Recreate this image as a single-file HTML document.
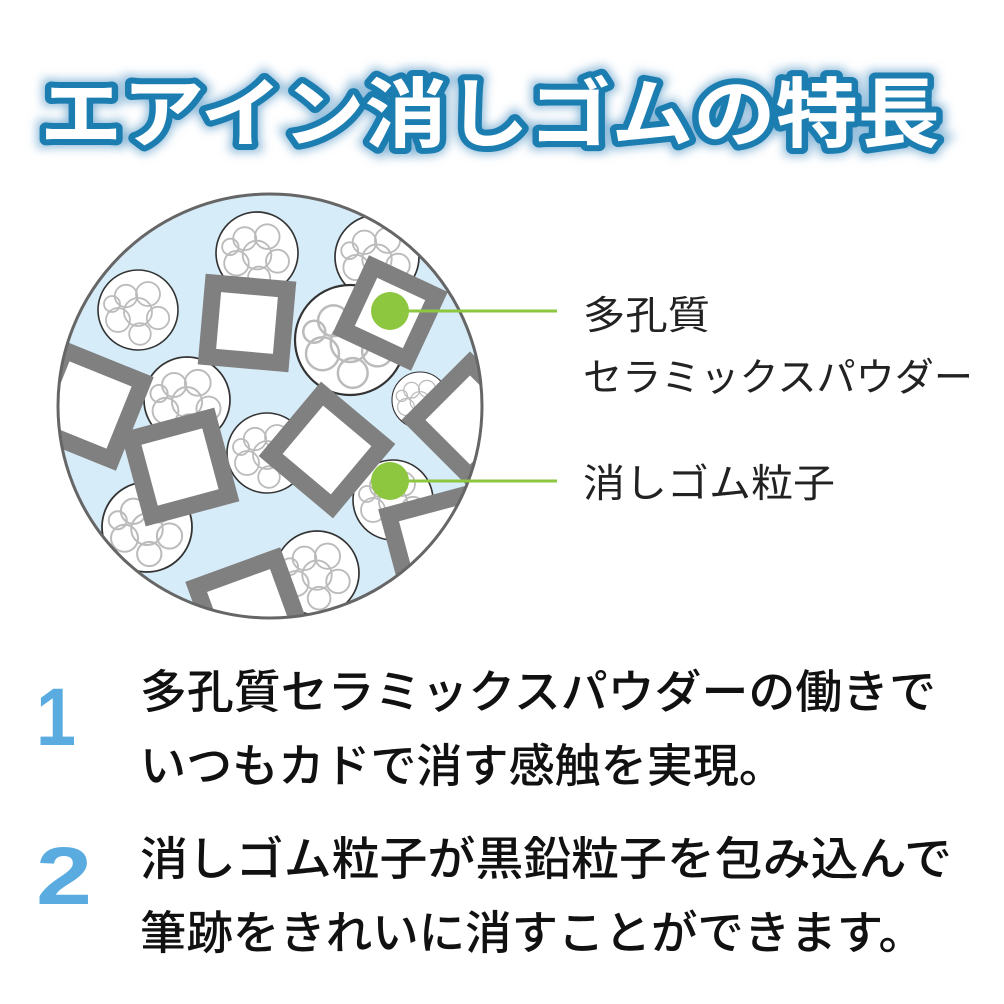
<!DOCTYPE html>
<html><head><meta charset="utf-8"><style>
html,body{margin:0;padding:0;background:#fff;}
svg{display:block;}
text{font-family:"Liberation Sans","Noto Sans CJK JP",sans-serif;}
</style></head><body>
<svg width="1004" height="1004" viewBox="0 0 1004 1004" xmlns="http://www.w3.org/2000/svg">
<defs>
<clipPath id="cc"><circle cx="270" cy="406" r="212"/></clipPath>
<filter id="gl" x="-10%" y="-30%" width="120%" height="160%"><feGaussianBlur stdDeviation="5"/></filter>
<g id="blob">
<circle r="1" fill="#fff" stroke="#333" stroke-width="0.04"/>
<g fill="none" stroke="#bbb" stroke-width="0.045">
<circle cx="-0.3" cy="-0.35" r="0.28"/><circle cx="0.25" cy="-0.4" r="0.3"/><circle cx="0" cy="0.05" r="0.35"/>
<circle cx="-0.5" cy="0.25" r="0.3"/><circle cx="0.5" cy="0.2" r="0.28"/><circle cx="0.05" cy="0.6" r="0.27"/><circle cx="-0.65" cy="-0.15" r="0.2"/>
</g></g>
</defs>
<rect width="1004" height="1004" fill="#fff"/>
<text x="40" y="141" font-size="76" font-weight="bold" textLength="900" lengthAdjust="spacingAndGlyphs" fill="#8ab8d8" stroke="#8ab8d8" stroke-width="16" filter="url(#gl)">エアイン消しゴムの特長</text>
<text x="40" y="141" font-size="76" font-weight="bold" textLength="900" lengthAdjust="spacingAndGlyphs" fill="#fff" stroke="#1b7db0" stroke-width="12" stroke-linejoin="round" paint-order="stroke">エアイン消しゴムの特長</text>
<circle cx="270" cy="406" r="212" fill="#d6ecf8"/>
<g clip-path="url(#cc)">
<use href="#blob" transform="translate(138,310) scale(40)"/>
<use href="#blob" transform="translate(257,253) scale(41)"/>
<use href="#blob" transform="translate(377,257) scale(42)"/>
<use href="#blob" transform="translate(350,340) scale(55)"/>
<use href="#blob" transform="translate(187,400) scale(43)"/>
<use href="#blob" transform="translate(420,400) scale(28)"/>
<use href="#blob" transform="translate(267,453) scale(40)"/>
<use href="#blob" transform="translate(147,527) scale(45)"/>
<use href="#blob" transform="translate(393,500) scale(40)"/>
<use href="#blob" transform="translate(317,573) scale(42)"/>
<g fill="#fff" stroke="#808080" stroke-width="17">
<rect x="-37" y="-37" width="74" height="74" transform="translate(247,323) rotate(5)"/>
<rect x="-35" y="-35" width="70" height="70" transform="translate(390,313) rotate(25)"/>
<rect x="-42" y="-42" width="84" height="84" transform="translate(88,405) rotate(22)"/>
<rect x="-40" y="-40" width="80" height="80" transform="translate(180,467) rotate(-15)"/>
<rect x="-40" y="-40" width="80" height="80" transform="translate(327,450) rotate(40)"/>
<rect x="-40" y="-40" width="80" height="80" transform="translate(470,420) rotate(45)"/>
<rect x="-42" y="-42" width="84" height="84" transform="translate(440,545) rotate(-15)"/>
<rect x="-42" y="-42" width="84" height="84" transform="translate(250,612) rotate(-20)"/>
</g>
</g>
<circle cx="270" cy="406" r="212" fill="none" stroke="#666" stroke-width="3"/>
<g stroke="#8dc63f" stroke-width="3"><line x1="390" y1="311" x2="557" y2="311"/><line x1="390" y1="481" x2="557" y2="481"/></g>
<circle cx="390" cy="311" r="19" fill="#8dc63f"/>
<circle cx="390" cy="481" r="19" fill="#8dc63f"/>
<g font-size="39" fill="#222">
<text x="583" y="329" textLength="127" lengthAdjust="spacingAndGlyphs">多孔質</text>
<text x="583" y="391" textLength="390" lengthAdjust="spacingAndGlyphs">セラミックスパウダー</text>
<text x="583" y="497" textLength="252" lengthAdjust="spacingAndGlyphs">消しゴム粒子</text>
</g>
<g fill="#5aace0" font-weight="bold" font-family="Liberation Sans,sans-serif">
<text x="36" y="745" font-size="82" textLength="40" lengthAdjust="spacingAndGlyphs">1</text>
<text x="36" y="904" font-size="82" textLength="56" lengthAdjust="spacingAndGlyphs">2</text>
</g>
<g font-size="46" fill="#111" font-weight="500">
<text x="140" y="708" textLength="796" lengthAdjust="spacingAndGlyphs">多孔質セラミックスパウダーの働きで</text>
<text x="140" y="782" textLength="645" lengthAdjust="spacingAndGlyphs">いつもカドで消す感触を実現。</text>
<text x="140" y="875" textLength="812" lengthAdjust="spacingAndGlyphs">消しゴム粒子が黒鉛粒子を包み込んで</text>
<text x="140" y="949" textLength="785" lengthAdjust="spacingAndGlyphs">筆跡をきれいに消すことができます。</text>
</g>
</svg>
</body></html>
